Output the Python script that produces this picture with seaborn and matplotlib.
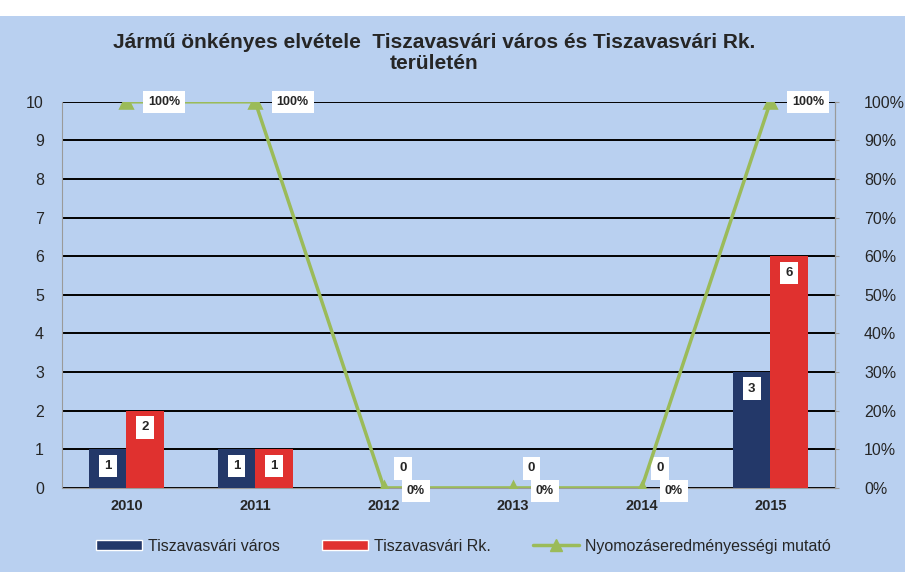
import matplotlib
matplotlib.use("Agg")
import matplotlib.pyplot as plt
import numpy as np
import pandas as pd
import seaborn as sns
from matplotlib.lines import Line2D
from matplotlib.patches import Patch, Rectangle

# ── data ──────────────────────────────────────────────────────────────────────
years      = ["2010", "2011", "2012", "2013", "2014", "2015"]
varos      = [1, 1, 0, 0, 0, 3]
rk         = [2, 1, 0, 0, 0, 6]
mutato_pct = [100, 100, 0, 0, 0, 100]
series     = ["Tiszavasvári város", "Tiszavasvári Rk."]
line_name  = "Nyomozáseredményességi mutató"
title      = "Jármű önkényes elvétele  Tiszavasvári város és Tiszavasvári Rk.\nterületén"

BG     = "#b9d0f0"
NAVY   = "#233869"
RED    = "#e0312f"
GREEN  = "#9bbb59"

sns.set_style("white")
plt.rcParams["font.family"] = ["Liberation Sans", "DejaVu Sans"]

df = pd.DataFrame({
    "year":   years * 2,
    "count":  varos + rk,
    "series": [series[0]] * len(years) + [series[1]] * len(years),
})

fig = plt.figure(figsize=(9.05, 5.72), dpi=100, facecolor=BG)
# white strip at the top like the scanned original
fig.patches.append(Rectangle((0, 0.972), 1, 0.028, transform=fig.transFigure,
                             facecolor="white", edgecolor="none", zorder=0))

ax = fig.add_axes([0.0685, 0.147, 0.854, 0.675])
ax.set_facecolor(BG)

sns.barplot(data=df, x="year", y="count", hue="series",
            palette=[NAVY, RED], saturation=1, width=0.58, ax=ax,
            legend=False, edgecolor="none", zorder=3)

ax.set_ylim(0, 10)
ax.set_yticks(range(0, 11))
ax.set_xlim(-0.5, len(years) - 0.5)
ax.grid(axis="y", color="black", lw=1.4, zorder=1)
ax.set_axisbelow(True)
ax.set_xlabel("")
ax.set_ylabel("")
ax.spines["top"].set_visible(False)
for s in ["left", "right", "bottom"]:
    ax.spines[s].set_color("#9a9a9a")
    ax.spines[s].set_linewidth(0.8)
ax.tick_params(axis="y", labelsize=11.5, length=0, pad=13)
ax.tick_params(axis="x", labelsize=10.5, length=0, pad=8)
for t in ax.get_xticklabels():
    t.set_fontweight("bold")

# bar value labels (white boxes)
box = dict(boxstyle="square,pad=0.4", facecolor="white", edgecolor="none")
for cont in ax.containers:
    for rect in cont:
        h = rect.get_height()
        cx = rect.get_x() + rect.get_width() / 2
        if h > 0:
            ax.annotate(f"{int(h)}", (cx, h), xytext=(0, -12),
                        textcoords="offset points", ha="center", va="center",
                        fontsize=9.5, fontweight="bold", bbox=box, zorder=6)
# one zero label per empty year (above the line)
for i, (a, b) in enumerate(zip(varos, rk)):
    if a == 0 and b == 0:
        ax.annotate("0", (i + 0.145, 0), xytext=(0, 14),
                    textcoords="offset points", ha="center", va="center",
                    fontsize=9.5, fontweight="bold", bbox=box, zorder=6)

# secondary axis: percentage line
ax2 = ax.twinx()
sns.pointplot(x=years, y=mutato_pct, ax=ax2, color=GREEN, markers="^",
              linewidth=2.5, markersize=9, errorbar=None, zorder=4)
ax2.set_ylim(0, 100)
ax2.set_yticks(range(0, 101, 10))
ax2.set_yticklabels([f"{v}%" for v in range(0, 101, 10)])
ax2.tick_params(axis="y", labelsize=11.5, length=3, pad=18, color="#9a9a9a")
ax2.set_xlim(-0.5, len(years) - 0.5)
ax2.set_ylabel("")
for s in ["top", "left", "bottom"]:
    ax2.spines[s].set_visible(False)
ax2.spines["right"].set_color("#9a9a9a")
ax2.spines["right"].set_linewidth(0.8)

for i, v in enumerate(mutato_pct):
    off = (27, 0) if v > 0 else (23, -2)
    ax2.annotate(f"{v}%", (i, v), xytext=off, textcoords="offset points",
                 ha="center", va="center", fontsize=9, fontweight="bold",
                 bbox=box, zorder=6, annotation_clip=False)

fig.text(0.48, 0.907, title, ha="center", va="center", fontsize=15,
         fontweight="bold", linespacing=1.15)

handles = [
    Patch(facecolor=NAVY, label=series[0]),
    Patch(facecolor=RED, label=series[1]),
    Line2D([0], [0], color=GREEN, lw=2.5, marker="^", markersize=9, label=line_name),
]
fig.legend(handles=handles, loc="center", bbox_to_anchor=(0.512, 0.045), ncol=3,
           frameon=False, fontsize=11.5, handlelength=2.9, handleheight=0.6,
           columnspacing=2.6, handletextpad=0.4)

fig.savefig("out.png", dpi=100, facecolor=BG)
